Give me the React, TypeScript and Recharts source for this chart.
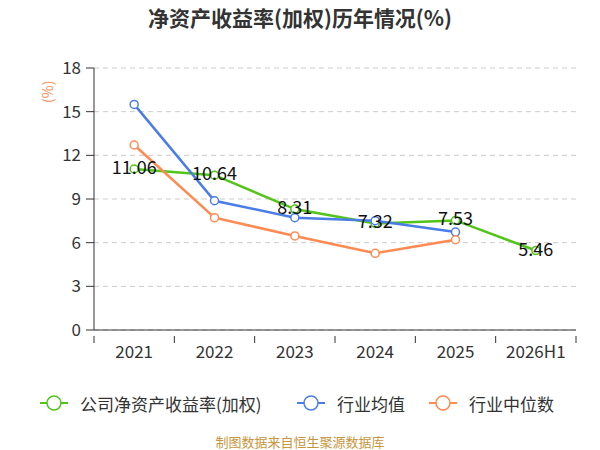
import React from 'react';
import { LineChart, Line, XAxis, YAxis, CartesianGrid, LabelList } from 'recharts';

const categories = ['2021', '2022', '2023', '2024', '2025', '2026H1'];
const companyRoe = [11.06, 10.64, 8.31, 7.32, 7.53, 5.46];
const industryAvg = [15.5, 8.88, 7.72, 7.51, 6.73, null];
const industryMedian = [12.71, 7.72, 6.46, 5.27, 6.2, null];
const yTicks = [0, 3, 6, 9, 12, 15, 18];

const GREEN = '#52c41a';
const BLUE = '#4a7de6';
const ORANGE = '#ff8a52';
const FONT = '"Noto Sans CJK SC", "Noto Sans", sans-serif';

const PLOT_LEFT = 94;
const PLOT_RIGHT = 576;
const HALF_BAND = (PLOT_RIGHT - PLOT_LEFT) / categories.length / 2;

const data = categories.map((c, i) => ({
  name: c,
  company: companyRoe[i],
  avg: industryAvg[i],
  median: industryMedian[i],
}));

const ValueLabel = (props: any) => {
  const { x, y, value } = props;
  if (value == null) return null;
  return (
    <text x={x} y={y} dy={5} textAnchor="middle" fontSize={18} fill="#111" fontFamily={FONT}>
      {value.toFixed(2)}
    </text>
  );
};

const XTick = (props: any) => {
  const { x, y, payload, index } = props;
  const last = index === categories.length - 1;
  return (
    <g>
      <line x1={x - HALF_BAND} y1={y - 2} x2={x - HALF_BAND} y2={y + 5} stroke="#333" />
      {last && <line x1={x + HALF_BAND} y1={y - 2} x2={x + HALF_BAND} y2={y + 5} stroke="#333" />}
      <text x={x} y={y + 20} textAnchor="middle" fontSize={17} fill="#333" fontFamily={FONT}>
        {payload.value}
      </text>
    </g>
  );
};

const legendItems = [
  { label: '公司净资产收益率(加权)', color: GREEN, x: 40 },
  { label: '行业均值', color: BLUE, x: 297 },
  { label: '行业中位数', color: ORANGE, x: 429 },
];

export default function App() {
  return (
    <div style={{ position: 'absolute', left: 0, top: 0, width: 600, height: 450, background: '#fff', fontFamily: FONT }}>
      <div style={{ position: 'absolute', left: 0, top: 2, width: 600, textAlign: 'center', fontSize: 21, fontWeight: 'bold', color: '#333' }}>
        净资产收益率(加权)历年情况(%)
      </div>
      <LineChart width={600} height={450} data={data} margin={{ top: 68, right: 24, bottom: 90, left: 0 }}>
        <CartesianGrid vertical={false} stroke="#cccccc" strokeDasharray="5 4" />
        <XAxis
          dataKey="name"
          height={30}
          axisLine={{ stroke: '#333' }}
          tickLine={false}
          interval={0}
          tick={<XTick />}
          padding={{ left: HALF_BAND, right: HALF_BAND }}
        />
        <YAxis
          width={94}
          domain={[0, 18]}
          ticks={yTicks}
          axisLine={{ stroke: '#333' }}
          tickLine={{ stroke: '#333' }}
          tickSize={8}
          tickMargin={5}
          tick={{ fill: '#333', fontSize: 17, fontFamily: FONT }}
          label={{ value: '(%)', angle: -90, position: 'insideTopLeft', dx: 38, dy: 30, fill: ORANGE, fontSize: 14 }}
        />
        <Line
          type="linear"
          dataKey="company"
          stroke={GREEN}
          strokeWidth={2.5}
          dot={{ r: 4, fill: '#fff', stroke: GREEN, strokeWidth: 1.5 }}
          isAnimationActive={false}
        >
          <LabelList dataKey="company" content={ValueLabel} />
        </Line>
        <Line
          type="linear"
          dataKey="avg"
          stroke={BLUE}
          strokeWidth={2.5}
          dot={{ r: 4, fill: '#fff', stroke: BLUE, strokeWidth: 1.5 }}
          isAnimationActive={false}
        />
        <Line
          type="linear"
          dataKey="median"
          stroke={ORANGE}
          strokeWidth={2.5}
          dot={{ r: 4, fill: '#fff', stroke: ORANGE, strokeWidth: 1.5 }}
          isAnimationActive={false}
        />
      </LineChart>
      {legendItems.map((it) => (
        <div key={it.label} style={{ position: 'absolute', left: it.x, top: 390, height: 26, display: 'flex', alignItems: 'center' }}>
          <svg width={28} height={20} style={{ marginRight: 12 }}>
            <line x1={0} y1={10} x2={28} y2={10} stroke={it.color} strokeWidth={2} />
            <circle cx={14} cy={10} r={7} fill="#fff" stroke={it.color} strokeWidth={1.5} />
          </svg>
          <span style={{ fontSize: 17, color: '#333', whiteSpace: 'nowrap' }}>{it.label}</span>
        </div>
      ))}
      <div style={{ position: 'absolute', left: 0, top: 432, width: 600, textAlign: 'center', fontSize: 13, color: '#c8963e' }}>
        制图数据来自恒生聚源数据库
      </div>
    </div>
  );
}
